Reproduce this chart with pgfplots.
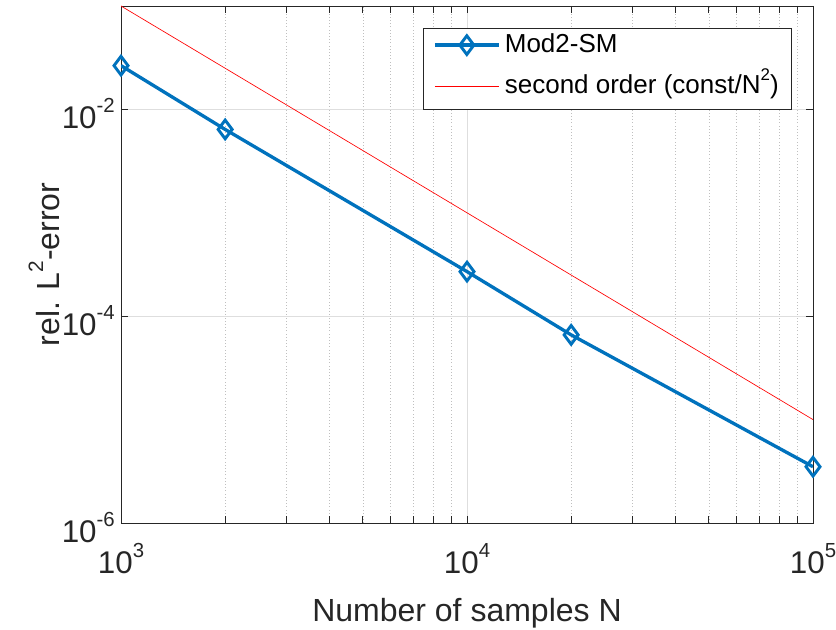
\documentclass[border=0pt]{standalone}
\usepackage{fontspec}
\setmainfont{Liberation Sans}
\usepackage{graphicx}
\usepackage{pgfplots}
\pgfplotsset{compat=1.18}
\definecolor{mblue}{rgb}{0,0.447,0.741}
\definecolor{axgray}{rgb}{0.15,0.15,0.15}
\newcommand\tsup[1]{\raisebox{0.5em}{\scalebox{0.65}{#1}}}
\begin{document}
\begin{tikzpicture}
\begin{loglogaxis}[
  scale only axis, width=519pt, height=387.75pt,
  xmin=1e3, xmax=1e5, ymin=1e-6, ymax=1e-1,
  xtick={1e3,1e4,1e5}, xticklabels={10\tsup{3},10\tsup{4},10\tsup{5}},
  ytick={1e-6,1e-4,1e-2}, yticklabels={10\tsup{-6},10\tsup{-4},10\tsup{-2}},
  yminorticks=false,
  xmajorgrids, ymajorgrids, xminorgrids,
  major grid style={black!13, line width=0.5pt},
  minor grid style={black!25, dotted, line width=0.5pt},
  tick align=inside,
  major tick length=5pt, minor tick length=5pt,
  axis line style={axgray, line width=0.6pt},
  tick style={axgray, line width=0.6pt},
  tick label style={font=\fontsize{23.5}{27}\selectfont, text=axgray, inner sep=0pt},
  xticklabel style={anchor=base, yshift=-37.5pt},
  yticklabel style={anchor=base east, xshift=-4.5pt, yshift=-14.25pt},
  xlabel={Number of samples N},
  xlabel style={font=\fontsize{24}{28}\selectfont, text=axgray, inner sep=0pt, at={(axis description cs:0.5,-0.1896)}, anchor=base},
  ylabel={rel. L\tsup{2}-error},
  ylabel style={font=\fontsize{24}{28}\selectfont, text=axgray, inner sep=0pt, at={(axis description cs:-0.0896,0.5)}, anchor=base},
  legend cell align=left,
  legend style={at={(rel axis cs:1,1)}, anchor=north east, xshift=-15.75pt, yshift=-16.5pt,
    draw=axgray, line width=0.5pt, fill=white, font=\fontsize{19.5}{23}\selectfont, text=black,
    inner xsep=7.75pt, inner ysep=4.6pt, row sep=10.5pt, column sep=1.25pt,
    nodes={inner xsep=2pt, inner ysep=4.5pt, text height=0.9em, text depth=0.25em}},
  legend image code/.code={\draw[mark repeat=2, mark phase=2, #1] plot coordinates {(0pt,2.25pt) (24pt,2.25pt) (48pt,2.25pt)};},
]
\addplot[mblue, line width=2.5pt, mark=diamond, mark size=7pt, mark options={line width=2.2pt, fill=white}] coordinates {
  (1000, 0.0265) (2000, 0.0064) (10000, 2.7e-4) (20000, 6.6e-5) (100000, 3.5e-6)
};
\addlegendentry{Mod2-SM}
\addplot[red, line width=0.5pt] coordinates {(1000, 0.1) (100000, 1e-5)};
\addlegendentry{second order (const/N\tsup{2})}
\coordinate (SW) at (rel axis cs:0,0);
\end{loglogaxis}
\pgfresetboundingbox
\useasboundingbox (SW) ++(-90.75pt,-80.25pt) rectangle ++(627pt,472.5pt);
\end{tikzpicture}
\end{document}
